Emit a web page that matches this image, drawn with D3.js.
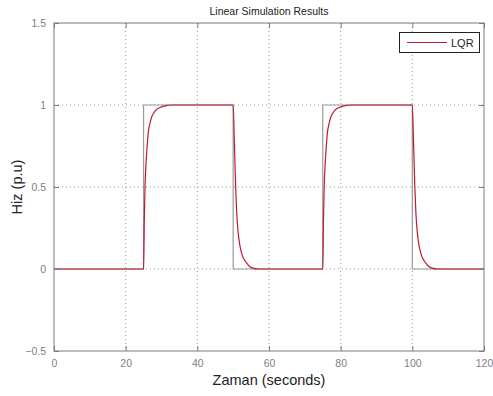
<!DOCTYPE html>
<html><head><meta charset="utf-8">
<script src="https://cdn.jsdelivr.net/npm/d3@7"></script>
<style>body{margin:0;background:#fff}svg{display:block}</style>
</head><body>
<script>
const title = "Linear Simulation Results";
const xLabel = "Zaman (seconds)";
const yLabel = "Hiz (p.u)";
const xTicks = [0, 20, 40, 60, 80, 100, 120];
const yTicks = [-0.5, 0, 0.5, 1, 1.5];
const inputT = [0, 25, 25, 50, 50, 75, 75, 100, 100, 120];
const inputY = [0, 0, 1, 1, 0, 0, 1, 1, 0, 0];
const lqrT = [0, 25, 25.2, 25.4, 25.7, 26.0, 26.3, 26.8, 27.3, 27.8, 28.5, 29.6, 31, 33, 40, 50,
              50.3, 50.7, 51.0, 51.4, 51.9, 52.6, 53.3, 53.8, 54.6, 55.5, 57, 65, 75,
              75.2, 75.4, 75.7, 76.0, 76.3, 76.8, 77.3, 77.8, 78.5, 79.6, 81, 83, 90, 100,
              100.3, 100.7, 101.0, 101.4, 101.9, 102.6, 103.3, 103.8, 104.6, 105.5, 107, 115, 120];
const lqrY = [0, 0, 0.3, 0.5, 0.65, 0.75, 0.83, 0.89, 0.93, 0.95, 0.97, 0.985, 0.995, 1, 1, 1,
              0.8, 0.5, 0.34, 0.22, 0.14, 0.08, 0.05, 0.035, 0.015, 0.005, 0, 0, 0,
              0.3, 0.5, 0.65, 0.75, 0.83, 0.89, 0.93, 0.95, 0.97, 0.985, 0.995, 1, 1, 1,
              0.8, 0.5, 0.34, 0.22, 0.14, 0.08, 0.05, 0.035, 0.015, 0.005, 0, 0, 0];
const legendLabel = "LQR";

const W = 493, H = 396;
const m = {l: 54, r: 9, t: 23, b: 45};
const svg = d3.select("body").append("svg").attr("width", W).attr("height", H);
const x = d3.scaleLinear().domain([0, 120]).range([m.l, W - m.r]);
const y = d3.scaleLinear().domain([-0.5, 1.5]).range([H - m.b, m.t]);
const axisCol = "#7a7a7a", tickText = "#7f7f7f", red = "#bc1a33";

// grid
const g = svg.append("g");
g.selectAll(".gx").data(xTicks.slice(1, -1)).join("line")
  .attr("x1", d => x(d)).attr("x2", d => x(d)).attr("y1", y(1.5)).attr("y2", y(-0.5))
  .attr("stroke", "#9a9a9a").attr("stroke-width", 1).attr("stroke-dasharray", "1,3");
g.selectAll(".gy").data(yTicks.slice(1, -1)).join("line")
  .attr("y1", d => y(d)).attr("y2", d => y(d)).attr("x1", x(0)).attr("x2", x(120))
  .attr("stroke", "#9a9a9a").attr("stroke-width", 1).attr("stroke-dasharray", "1,3");

// input (gray)
const line = d3.line().x(d => x(d[0])).y(d => y(d[1]));
svg.append("path").datum(inputT.map((t, i) => [t, inputY[i]]))
  .attr("d", line).attr("fill", "none").attr("stroke", "#9b9b9b").attr("stroke-width", 1.2);
// LQR
svg.append("path").datum(lqrT.map((t, i) => [t, lqrY[i]]))
  .attr("d", d3.line().x(d => x(d[0])).y(d => y(d[1])).curve(d3.curveMonotoneX))
  .attr("fill", "none").attr("stroke", red).attr("stroke-width", 1.2);

// box
svg.append("rect").attr("x", x(0)).attr("y", y(1.5)).attr("width", x(120) - x(0)).attr("height", y(-0.5) - y(1.5))
  .attr("fill", "none").attr("stroke", axisCol).attr("stroke-width", 1);

// axes
const xa = svg.append("g").attr("transform", `translate(0,${y(-0.5)})`)
  .call(d3.axisBottom(x).tickValues(xTicks).tickSize(-5).tickPadding(12).tickFormat(d3.format("d")));
const xt = svg.append("g").attr("transform", `translate(0,${y(1.5)})`)
  .call(d3.axisTop(x).tickValues(xTicks).tickSize(-5).tickFormat(""));
const ya = svg.append("g").attr("transform", `translate(${x(0)},0)`)
  .call(d3.axisLeft(y).tickValues(yTicks).tickSize(-5).tickPadding(8).tickFormat(d => d3.format("")(d)));
const yr = svg.append("g").attr("transform", `translate(${x(120)},0)`)
  .call(d3.axisRight(y).tickValues(yTicks).tickSize(-5).tickFormat(""));
[xa, xt, ya, yr].forEach(a => {
  a.select(".domain").remove();
  a.selectAll("line").attr("stroke", axisCol);
  a.selectAll("text").attr("fill", tickText).style("font-family", "Arial, 'Liberation Sans', sans-serif").style("font-size", "10.5px");
});
xa.selectAll("text").attr("dy", "0.4em");

// title and labels
svg.append("text").attr("x", (x(0) + x(120)) / 2).attr("y", 15).attr("text-anchor", "middle")
  .style("font-family", "Arial, 'Liberation Sans', sans-serif").style("font-size", "10.5px").attr("fill", "#222").text(title);
svg.append("text").attr("x", (x(0) + x(120)) / 2).attr("y", 385).attr("text-anchor", "middle")
  .style("font-family", "Arial, 'Liberation Sans', sans-serif").style("font-size", "14.5px").attr("fill", "#222").text(xLabel);
svg.append("text").attr("transform", `translate(22,${(y(1.5) + y(-0.5)) / 2}) rotate(-90)`).attr("text-anchor", "middle")
  .style("font-family", "Arial, 'Liberation Sans', sans-serif").style("font-size", "14.5px").attr("fill", "#222").text(yLabel);

// legend
const lg = svg.append("g");
lg.append("rect").attr("x", 399.5).attr("y", 32.5).attr("width", 80).attr("height", 20)
  .attr("fill", "#fff").attr("stroke", "#222").attr("stroke-width", 1);
lg.append("line").attr("x1", 407).attr("x2", 447).attr("y1", 42.5).attr("y2", 42.5)
  .attr("stroke", red).attr("stroke-width", 1.2);
lg.append("text").attr("x", 451).attr("y", 46.5)
  .style("font-family", "Arial, 'Liberation Sans', sans-serif").style("font-size", "11px").attr("fill", "#222").text(legendLabel);
</script>
</body></html>
